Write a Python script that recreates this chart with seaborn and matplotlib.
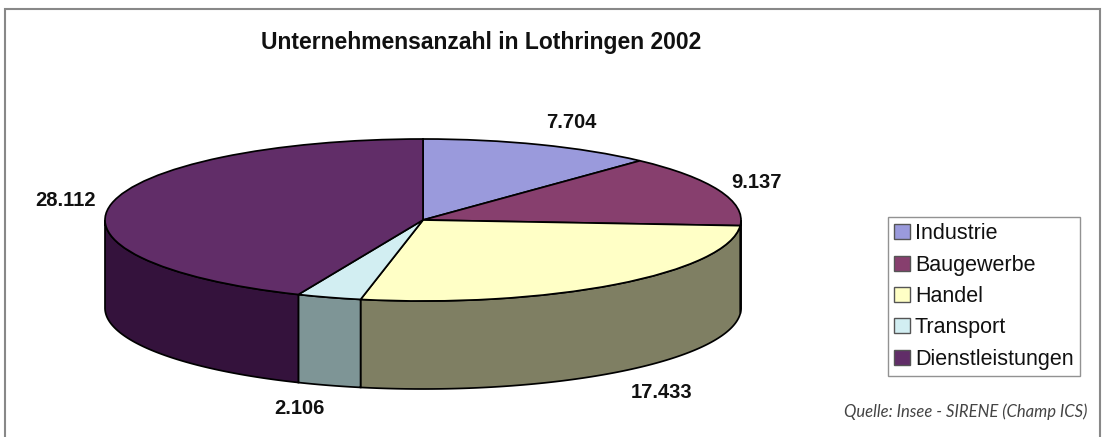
import numpy as np
import matplotlib
matplotlib.use('Agg')
import matplotlib.pyplot as plt
import matplotlib.patches as mpatches
import seaborn as sns

# Daten
sektoren = ['Industrie', 'Baugewerbe', 'Handel', 'Transport', 'Dienstleistungen']
anzahl = [7704, 9137, 17433, 2106, 28112]
farben_oben = ['#9a9adc', '#873f6e', '#ffffc6', '#d2eef2', '#612d68']
farben_seite = ['#4d4d6e', '#441f37', '#7f7f63', '#7e9596', '#34123c']

sns.set_theme(style='white')
plt.rcParams['font.family'] = ['Liberation Sans', 'DejaVu Sans']

W, H = 1102, 437
fig = plt.figure(figsize=(W / 100, H / 100), dpi=100)
ax = fig.add_axes([0, 0, 1, 1])

# Pixelgeometrie der Torte
cx, cy = 423, 220
rx, ry = 318, 81
tiefe = 88 / ry

def px(x, y):
    return (x - cx) / rx, (cy - y) / ry

wedges, _ = ax.pie(anzahl, colors=sns.color_palette(farben_oben), startangle=90,
                   counterclock=False,
                   wedgeprops=dict(edgecolor='black', linewidth=1.25, zorder=3))

# Seitenflächen (3D-Effekt) aus den Winkeln der Tortenstücke
for w, fc in zip(wedges, farben_seite):
    start = w.theta1 % 360
    ende = start + (w.theta2 - w.theta1)
    for lo, hi in [(180, 360), (540, 720)]:
        a, b = max(start, lo), min(ende, hi)
        if b <= a:
            continue
        t = np.radians(np.linspace(a, b, 120))
        xs, ys = np.cos(t), np.sin(t)
        pts = np.column_stack([np.r_[xs, xs[::-1]], np.r_[ys, ys[::-1] - tiefe]])
        ax.add_patch(mpatches.Polygon(pts, closed=True, facecolor=fc,
                                      edgecolor='black', linewidth=1.25, zorder=2))

ax.set_aspect('auto')
ax.set_xlim(-cx / rx, (W - cx) / rx)
ax.set_ylim(-(H - cy) / ry, cy / ry)
ax.axis('off')

# Werte-Beschriftungen
etikett_pos = [(571, 123), (757, 182), (662, 393), (299, 408), (65, 200)]
for wert, (x, y) in zip(anzahl, etikett_pos):
    ax.text(*px(x, y), f'{wert:,}'.replace(',', '.'), ha='center', va='center',
            fontsize=14.5, fontweight='bold', color='#111111')

fig.text(481 / W, 1 - 42 / H, 'Unternehmensanzahl in Lothringen 2002', ha='center',
         va='center', fontsize=16.5, fontweight='bold', color='#111111')

handles = [mpatches.Patch(facecolor=w.get_facecolor(), edgecolor='#555555', linewidth=1)
           for w in wedges]
leg = fig.legend(handles, sektoren, loc='upper left', bbox_to_anchor=(888 / W, 1 - 217 / H),
                 fontsize=15.5, frameon=True, fancybox=False, shadow=False,
                 handlelength=0.7, handleheight=0.7, handletextpad=0.25,
                 labelspacing=0.48, borderpad=0.3, borderaxespad=0)
leg.get_frame().set_edgecolor('#777777')
leg.get_frame().set_linewidth(1.0)
for txt in leg.get_texts():
    txt.set_color('#111111')

fig.text(1087 / W, 1 - 412 / H, 'Quelle: Insee - SIRENE (Champ ICS)', ha='right',
         va='center', fontsize=12, fontstyle='italic', fontweight='normal',
         family=['Lato', 'DejaVu Sans'], color='#444444')

fig.patches.append(mpatches.Rectangle((5 / W, -0.05), 1095 / W, 0.05 + 1 - 9 / H,
                                      transform=fig.transFigure, fill=False,
                                      edgecolor='#888888', linewidth=1.5))

fig.savefig('out.png', dpi=100)
